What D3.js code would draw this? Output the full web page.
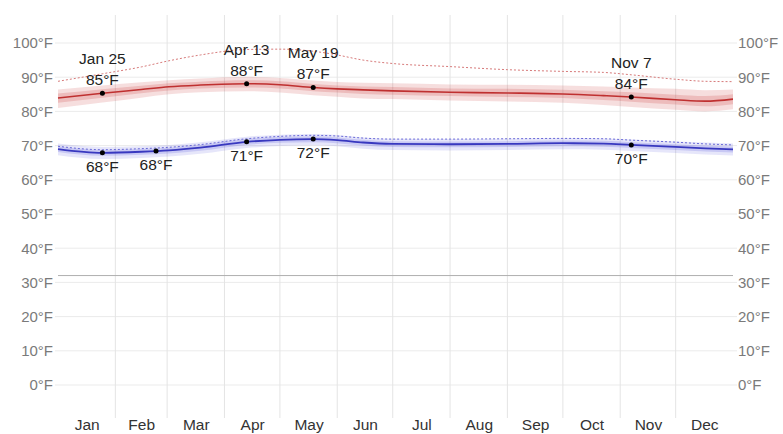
<!DOCTYPE html>
<html><head><meta charset="utf-8">
<script src="https://cdn.jsdelivr.net/npm/d3@7"></script>
<style>
html,body{margin:0;padding:0;background:#fff;}
svg{display:block;font-family:"Liberation Sans",Arial,sans-serif;}
</style></head>
<body><svg id="chart" width="783" height="434"></svg>
<script>
// ---- data ----
const months = ["Jan","Feb","Mar","Apr","May","Jun","Jul","Aug","Sep","Oct","Nov","Dec"];
const monthDays = [31,28,31,30,31,30,31,31,30,31,30,31];
const tempTicks = [0,10,20,30,40,50,60,70,80,90,100];
const days   = [0,24,45,60,77,102,120,138,151,165,181,212,243,273,295,310,334,350,365];
const high   = [83.9,85.3,86.4,87.2,87.7,88.1,87.8,87.0,86.6,86.3,86.0,85.6,85.4,85.1,84.6,84.2,83.4,83.0,83.6];
const high90 = [86.4,87.6,88.5,89.1,89.6,90.1,89.8,89.0,88.6,88.4,88.2,87.9,87.8,87.6,87.3,87.0,86.6,86.2,86.4];
const high75 = [85.2,86.5,87.5,88.2,88.7,89.1,88.8,88.0,87.6,87.3,87.1,86.7,86.6,86.3,85.9,85.6,84.9,84.5,85.0];
const high25 = [82.5,84.0,85.3,86.1,86.7,87.0,86.7,85.9,85.5,85.1,84.9,84.5,84.2,83.9,83.3,82.8,82.0,81.5,82.1];
const high10 = [81.0,82.6,84.0,85.0,85.6,85.9,85.5,84.7,84.3,83.8,83.6,83.2,82.9,82.5,81.9,81.3,80.5,80.0,80.6];
const low    = [69.0,67.9,68.2,68.6,69.4,71.1,71.7,71.9,71.6,70.9,70.5,70.4,70.5,70.7,70.6,70.2,69.6,69.2,68.9];
const low90  = [70.6,69.6,69.8,70.2,71.0,72.6,73.2,73.4,73.1,72.4,72.0,71.9,72.0,72.2,72.1,71.8,71.2,70.9,70.6];
const low75  = [69.8,68.7,69.0,69.4,70.2,71.9,72.5,72.7,72.4,71.7,71.3,71.2,71.3,71.5,71.4,71.0,70.4,70.0,69.7];
const low25  = [68.1,67.0,67.3,67.7,68.5,70.2,70.8,71.0,70.7,70.0,69.6,69.5,69.6,69.8,69.7,69.3,68.7,68.3,68.0];
const low10  = [67.2,66.1,66.4,66.8,67.6,69.3,69.9,70.1,69.8,69.1,68.7,68.6,68.7,68.9,68.8,68.4,67.8,67.4,67.1];
const feelsHigh = [88.8,91.0,93.0,94.8,96.5,98.1,98.2,97.6,96.5,95.0,94.0,93.1,92.2,91.7,91.4,90.7,89.4,88.8,88.7];
const feelsLow  = [69.8,68.8,69.1,69.5,70.3,72.0,72.7,73.0,72.8,72.2,71.9,71.9,72.0,72.1,72.0,71.6,71.0,70.5,70.2];
// annotated days
const highMarkDays   = [24,102,138,310];
const highMarkDates  = ["Jan 25","Apr 13","May 19","Nov 7"];
const highMarkValues = [85.3,88.1,87.0,84.2];
const lowMarkDays    = [24,53,102,138,310];
const lowMarkValues  = [67.9,68.4,71.1,71.9,70.2];

// ---- layout ----
const svg = d3.select("#chart");
const x = d3.scaleLinear().domain([0,365]).range([58,733]);
const y = d3.scaleLinear().domain([0,100]).range([385,43]);
const gridTop = 15, gridBottom = 418;

// month boundaries
const bounds = [0];
monthDays.forEach((d,i)=>bounds.push(bounds[i]+d));

// horizontal grid
svg.append("g").selectAll("line").data(tempTicks).join("line")
  .attr("x1",55).attr("x2",737)
  .attr("y1",d=>y(d)).attr("y2",d=>y(d))
  .attr("stroke","#ebebeb").attr("stroke-width",1);
// vertical grid (internal month boundaries)
svg.append("g").selectAll("line").data(bounds.slice(1,12)).join("line")
  .attr("x1",d=>x(d)).attr("x2",d=>x(d))
  .attr("y1",gridTop).attr("y2",gridBottom)
  .attr("stroke","#e4e4e4").attr("stroke-width",1);
// freezing line
svg.append("line").attr("x1",x(0)).attr("x2",x(365))
  .attr("y1",y(32)).attr("y2",y(32)).attr("stroke","#b0b0b0").attr("stroke-width",1);

// axes labels
const leftAxis = d3.axisLeft(y).tickValues(tempTicks).tickFormat(d=>d+"°F").tickSize(0).tickPadding(0);
const gl = svg.append("g").attr("transform","translate(53,0)").call(leftAxis);
const rightAxis = d3.axisRight(y).tickValues(tempTicks).tickFormat(d=>d+"°F").tickSize(0).tickPadding(0);
const gr = svg.append("g").attr("transform","translate(738,0)").call(rightAxis);
[gl,gr].forEach(g=>{
  g.select(".domain").remove();
  g.selectAll("text").attr("fill","#7a7a7a").style("font-size","15px")
   .style("font-family","'Liberation Sans',Arial,sans-serif");
});
// month labels
const monthCenters = months.map((m,i)=>(bounds[i]+bounds[i+1])/2);
const xAxis = d3.axisBottom(x).tickValues(monthCenters).tickFormat((d,i)=>months[i]).tickSize(0).tickPadding(0);
const gx = svg.append("g").attr("transform","translate(0,419)").call(xAxis);
gx.select(".domain").remove();
gx.selectAll("text").attr("fill","#333").style("font-size","15.5px")
  .style("font-family","'Liberation Sans',Arial,sans-serif");

// series helpers
const pts = arr => days.map((d,i)=>({d:d, v:arr[i]}));
const band = (lo,hi) => days.map((d,i)=>({d:d, lo:lo[i], hi:hi[i]}));
const curve = d3.curveMonotoneX;
const area = d3.area().x(p=>x(p.d)).y0(p=>y(p.lo)).y1(p=>y(p.hi)).curve(curve);
const line = d3.line().x(p=>x(p.d)).y(p=>y(p.v)).curve(curve);

// high bands
svg.append("path").datum(band(high10,high90)).attr("d",area).attr("fill","rgba(205,70,70,0.18)");
svg.append("path").datum(band(high25,high75)).attr("d",area).attr("fill","rgba(205,70,70,0.22)");
// low bands
svg.append("path").datum(band(low10,low90)).attr("d",area).attr("fill","rgba(80,80,220,0.14)");
svg.append("path").datum(band(low25,low75)).attr("d",area).attr("fill","rgba(80,80,220,0.2)");

// feels-like dotted lines
svg.append("path").datum(pts(feelsHigh)).attr("d",line).attr("fill","none")
  .attr("stroke","#d77a7a").attr("stroke-width",1).attr("stroke-dasharray","2,2");
svg.append("path").datum(pts(feelsLow)).attr("d",line).attr("fill","none")
  .attr("stroke","#6a6ad8").attr("stroke-width",1).attr("stroke-dasharray","2,2");

// main lines
svg.append("path").datum(pts(high)).attr("d",line).attr("fill","none")
  .attr("stroke","#bf3030").attr("stroke-width",1.6);
svg.append("path").datum(pts(low)).attr("d",line).attr("fill","none")
  .attr("stroke","#3838bf").attr("stroke-width",1.8);

// annotations
const txt = "#222";
const hm = highMarkDays.map((d,i)=>({d:d, v:highMarkValues[i], date:highMarkDates[i]}));
const lm = lowMarkDays.map((d,i)=>({d:d, v:lowMarkValues[i]}));
const ga = svg.append("g").style("font-family","'Liberation Sans',Arial,sans-serif").style("font-size","15.5px");
ga.selectAll("circle.h").data(hm).join("circle").attr("class","h")
  .attr("cx",p=>x(p.d)).attr("cy",p=>y(p.v)).attr("r",2.5).attr("fill","#000");
ga.selectAll("text.hd").data(hm).join("text").attr("class","hd")
  .attr("x",p=>x(p.d)).attr("y",p=>y(p.v)-29).attr("text-anchor","middle").attr("fill",txt)
  .text(p=>p.date);
ga.selectAll("text.hv").data(hm).join("text").attr("class","hv")
  .attr("x",p=>x(p.d)).attr("y",p=>y(p.v)-8).attr("text-anchor","middle").attr("fill",txt)
  .text(p=>Math.round(p.v)+"°F");
ga.selectAll("circle.l").data(lm).join("circle").attr("class","l")
  .attr("cx",p=>x(p.d)).attr("cy",p=>y(p.v)).attr("r",2.5).attr("fill","#000");
ga.selectAll("text.lv").data(lm).join("text").attr("class","lv")
  .attr("x",p=>x(p.d)).attr("y",p=>y(p.v)+19).attr("text-anchor","middle").attr("fill",txt)
  .text(p=>Math.round(p.v)+"°F");
</script></body></html>
